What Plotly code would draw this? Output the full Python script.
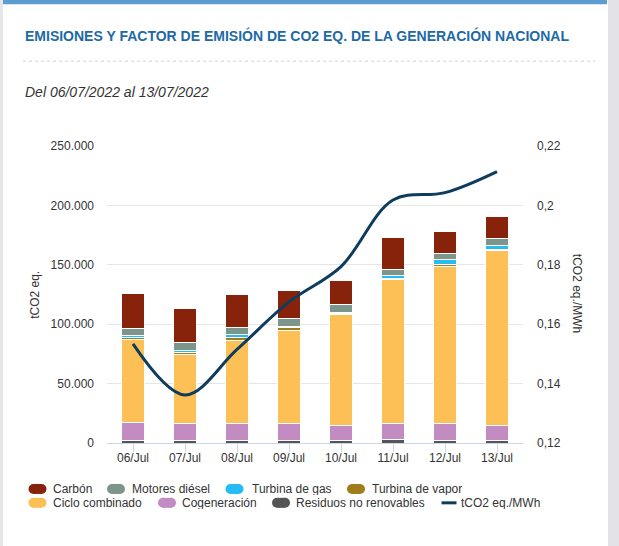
import plotly.graph_objects as go

# data
dates = ["06/Jul", "07/Jul", "08/Jul", "09/Jul", "10/Jul", "11/Jul", "12/Jul", "13/Jul"]

residuos = [2500, 1700, 1700, 1700, 1700, 2800, 1700, 1700]
cogeneracion = [14600, 14300, 14300, 14500, 13400, 14000, 14300, 13400]
ciclo_combinado = [70400, 58500, 70300, 78500, 93000, 120800, 132500, 146800]
turbina_vapor = [1200, 1300, 2800, 2600, 1200, 900, 1700, 950]
turbina_gas = [1500, 1700, 2000, 800, 800, 2200, 3900, 3000]
motores_diesel = [6100, 6900, 6100, 6500, 6100, 5600, 5100, 5900]
carbon = [29200, 28600, 27700, 23500, 21000, 26300, 18500, 18800]

factor = [0.1534, 0.1362, 0.1515, 0.1675, 0.1794, 0.2018, 0.2043, 0.2114]

left_ticks = [0, 50000, 100000, 150000, 200000, 250000]
right_ticks = [0.12, 0.14, 0.16, 0.18, 0.20, 0.22]

# stacking order bottom -> top
series = [
    ("Residuos no renovables", residuos, "#555555"),
    ("Cogeneración", cogeneracion, "#c28bc1"),
    ("Ciclo combinado", ciclo_combinado, "#fcc056"),
    ("Turbina de vapor", turbina_vapor, "#a07c1c"),
    ("Turbina de gas", turbina_gas, "#24bdf3"),
    ("Motores diésel", motores_diesel, "#7d968c"),
    ("Carbón", carbon, "#88230b"),
]
line_color = "#0d3c5e"

W, H = 619, 546
L, R, T, B = 107, 523, 146, 443.3


def fx(x):
    return (x - L) / (R - L)


def fy(y):
    return (B - y) / (B - T)


fig = go.Figure()
for name, vals, color in series:
    fig.add_trace(go.Bar(
        x=dates, y=vals, name=name,
        marker=dict(color=color, line=dict(color="white", width=1)),
    ))

fig.add_trace(go.Scatter(
    x=dates, y=factor, name="tCO2 eq./MWh", yaxis="y2",
    mode="lines", line=dict(color=line_color, width=3, shape="spline", smoothing=1.0),
))

font = "Liberation Sans, Arial, sans-serif"

shapes = [
    # card edges
    dict(type="rect", xref="paper", yref="paper", x0=fx(608), x1=fx(W + 2), y0=fy(-2), y1=fy(H + 2),
         fillcolor="#e2e2e7", line_width=0, layer="below"),
    dict(type="rect", xref="paper", yref="paper", x0=fx(-2), x1=fx(3), y0=fy(-2), y1=fy(H + 2),
         fillcolor="#e6e6ea", line_width=0, layer="below"),
    dict(type="rect", xref="paper", yref="paper", x0=fx(3), x1=fx(607), y0=fy(-2), y1=fy(4),
         fillcolor="#5b9dce", line_width=0, layer="below"),
    # dotted separator under the title
    dict(type="line", xref="paper", yref="paper", x0=fx(23), x1=fx(595), y0=fy(61), y1=fy(61),
         line=dict(color="#cfcfcf", width=1, dash="dot")),
]

annotations = [
    dict(text="<b>EMISIONES Y FACTOR DE EMISIÓN DE CO2 EQ. DE LA GENERACIÓN NACIONAL</b>",
         x=fx(23), y=fy(35), xref="paper", yref="paper", xanchor="left", yanchor="middle",
         showarrow=False, font=dict(family=font, size=14, color="#1d6aa5")),
    dict(text="<i>Del 06/07/2022 al 13/07/2022</i>",
         x=fx(23), y=fy(92), xref="paper", yref="paper", xanchor="left", yanchor="middle",
         showarrow=False, font=dict(family=font, size=14, color="#333333")),
    dict(text="tCO2 eq.", textangle=-90,
         x=fx(35), y=fy(295), xref="paper", yref="paper", xanchor="center", yanchor="middle",
         showarrow=False, font=dict(family=font, size=12, color="#333333")),
    dict(text="tCO2 eq./MWh", textangle=90,
         x=fx(577), y=fy(293), xref="paper", yref="paper", xanchor="center", yanchor="middle",
         showarrow=False, font=dict(family=font, size=12, color="#333333")),
]

# custom legend (pill symbols like the original)
colors = {name: color for name, _, color in series}
legend_items = [
    ("Carbón", 37.5, 51.7, 489.3),
    ("Motores diésel", 116, 130.7, 489.3),
    ("Turbina de gas", 234.5, 250.7, 489.3),
    ("Turbina de vapor", 356, 370.7, 489.3),
    ("Ciclo combinado", 37.5, 51.7, 503.2),
    ("Cogeneración", 167, 181, 503.2),
    ("Residuos no renovables", 281, 295, 503.2),
    ("tCO2 eq./MWh", 449, 460, 503.2),
]
for name, cx, tx, cy in legend_items:
    if name in colors:
        c = colors[name]
        for x0, x1 in [(cx - 9, cx + 1), (cx - 1, cx + 9)]:
            shapes.append(dict(type="circle", xref="paper", yref="paper",
                               x0=fx(x0), x1=fx(x1), y0=fy(cy - 5), y1=fy(cy + 5),
                               fillcolor=c, line_width=0))
        shapes.append(dict(type="rect", xref="paper", yref="paper",
                           x0=fx(cx - 4), x1=fx(cx + 4), y0=fy(cy - 5), y1=fy(cy + 5),
                           fillcolor=c, line_width=0))
    else:
        shapes.append(dict(type="line", xref="paper", yref="paper",
                           x0=fx(cx - 7.5), x1=fx(cx + 7.5), y0=fy(cy), y1=fy(cy),
                           line=dict(color=line_color, width=3)))
    annotations.append(dict(text=name, x=fx(tx), y=fy(cy), xref="paper", yref="paper",
                            xanchor="left", yanchor="middle", showarrow=False, height=12,
                            borderpad=0, font=dict(family=font, size=12, color="#333333")))

fig.update_layout(
    width=W, height=H,
    margin=dict(l=L, r=W - R, t=T, b=H - B),
    paper_bgcolor="white", plot_bgcolor="white",
    barmode="stack", bargap=0.54,
    separators=",.",
    showlegend=False,
    font=dict(family=font, size=12, color="#333333"),
    xaxis=dict(
        type="category", showline=True, linecolor="#ccd6eb", linewidth=1,
        ticks="outside", ticklen=8, tickcolor="#ccd6eb", ticklabelstandoff=-4,
        tickfont=dict(size=12, color="#333333"),
        showgrid=False,
    ),
    yaxis=dict(
        range=[0, 250000], tickvals=left_ticks, tickformat=",d",
        showgrid=True, gridcolor="#e6e6e6", zeroline=False,
        ticklabelstandoff=12, tickfont=dict(size=12, color="#333333"),
    ),
    yaxis2=dict(
        overlaying="y", side="right", range=[0.12, 0.22], tickvals=right_ticks,
        showgrid=False, zeroline=False,
        ticklabelstandoff=13, tickfont=dict(size=12, color="#333333"),
    ),
    shapes=shapes,
    annotations=annotations,
)

# the page's default body margin would push the figure 8px off
fig.write_html("out.html", config={"displayModeBar": False},
               post_script="document.body.style.margin='0';document.body.style.overflow='hidden';")
